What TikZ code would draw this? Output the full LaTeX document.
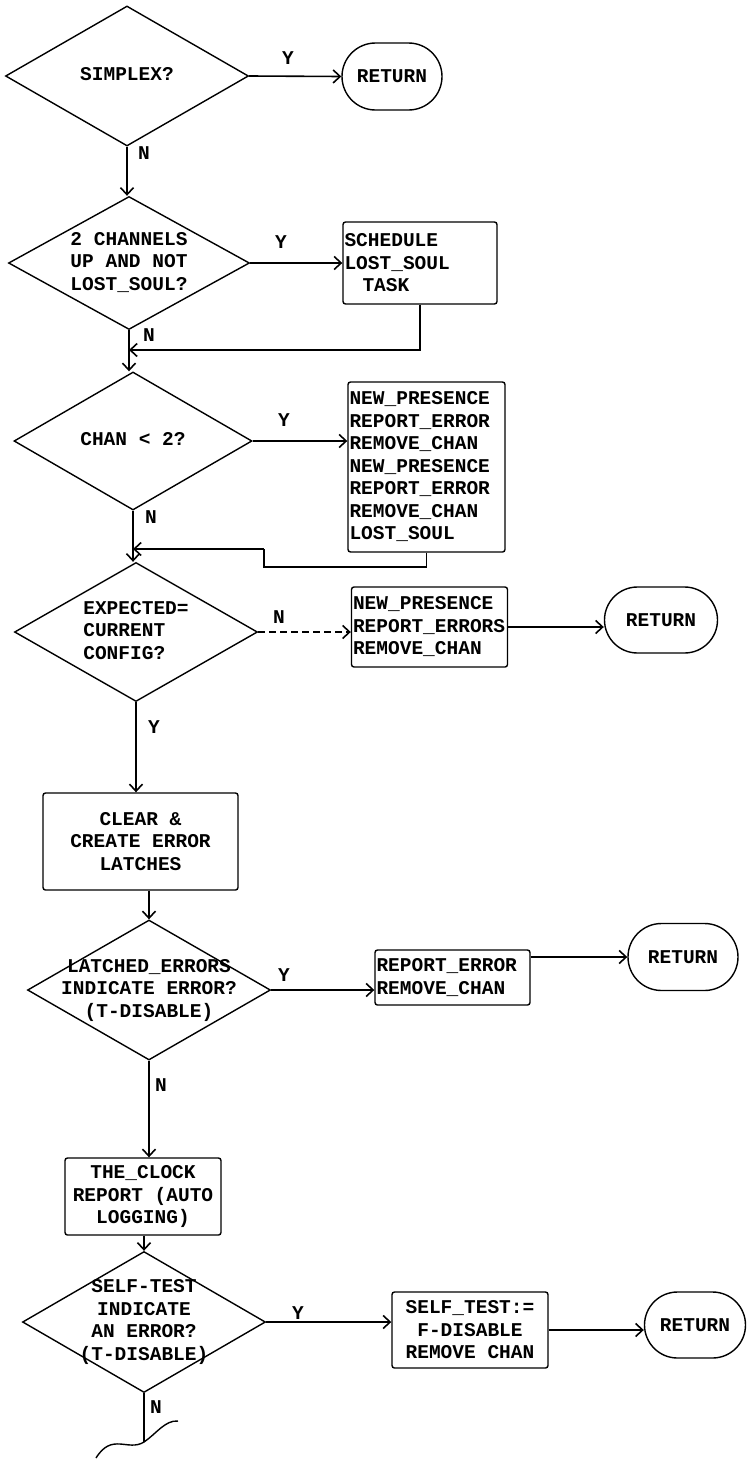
\documentclass[tikz,border=0pt]{standalone}
\usepackage{fontspec}
\setmainfont{Liberation Mono}[WordSpace={1,0,0}]
\usetikzlibrary{shapes.geometric,shapes.misc,arrows.meta}
\newcommand\pfont{\fontsize{19.5}{22.5}\selectfont\bfseries}
\newcommand\zt[2][c]{\makebox[0pt]{\begin{tabular}{@{}#1@{}}#2\end{tabular}}}
\begin{document}
\begin{tikzpicture}[x=1pt,y=-1pt,
  every node/.style={font=\pfont, text=black},
  dia/.style={draw, diamond, line width=1.4pt, inner sep=0pt, minimum width=243pt, minimum height=140pt},
  proc/.style={draw, rectangle, rounded corners=2.5pt, line width=1.4pt, inner xsep=1.5pt, inner ysep=0pt, align=flush left},
  term/.style={draw, rounded rectangle, line width=1.4pt, inner sep=0pt, minimum width=100pt, minimum height=67pt},
  lbl/.style={inner sep=0pt},
  arr/.style={line width=1.6pt, -{Straight Barb[length=7pt,width=13pt]}},
  ln/.style={line width=1.6pt},
]
\useasboundingbox (0,0) rectangle (749,1459);

% nodes
\node[dia] (d1) at (127,76) {\zt{SIMPLEX?}};
\node[term] (r1) at (392,76.5) {RETURN};

\node[dia, minimum width=241pt, minimum height=133pt] (d2) at (129,263) {\zt[l]{2 CHANNELS\\UP AND NOT\\LOST\_SOUL?}};
\node[proc, text width=151pt, minimum height=82pt] (s2) at (420,263) {SCHEDULE\\LOST\_SOUL\\\hspace*{18pt}TASK};

\node[dia, minimum width=238pt, minimum height=138pt] (d3) at (133,441) {\zt{CHAN < 2?}};
\node[proc, text width=154pt, minimum height=170pt] (b3) at (426.5,467) {NEW\_PRESENCE\\REPORT\_ERROR\\REMOVE\_CHAN\\NEW\_PRESENCE\\REPORT\_ERROR\\REMOVE\_CHAN\\LOST\_SOUL};

\node[dia, minimum height=139pt] (d4) at (136,632) {\zt[l]{EXPECTED=\\CURRENT\\CONFIG?}};
\node[proc, text width=153pt, minimum height=80pt] (b4) at (429.5,627) {NEW\_PRESENCE\\REPORT\_ERRORS\\REMOVE\_CHAN};
\node[term, minimum width=113pt, minimum height=66pt] (r4) at (661,620) {RETURN};

\node[proc, align=flush center, text width=192pt, minimum height=97pt] (clear) at (140.5,841.5) {CLEAR \&\\CREATE ERROR\\LATCHES};

\node[dia] (d5) at (149,990) {\zt{LATCHED\_ERRORS\\INDICATE ERROR?\\(T-DISABLE)}};
\node[proc, text width=152pt, minimum height=55pt] (b5) at (452.5,977.5) {REPORT\_ERROR\\REMOVE\_CHAN};
\node[term, minimum width=110pt] (r5) at (683,957) {RETURN};

\node[proc, align=flush center, text width=153pt, minimum height=77pt] (clock) at (143,1196.5) {THE\_CLOCK\\REPORT (AUTO\\LOGGING)};

\node[dia, minimum height=141pt] (d6) at (144,1322) {\zt{SELF-TEST\\INDICATE\\AN ERROR?\\(T-DISABLE)}};
\node[proc, align=flush center, text width=153pt, minimum height=76pt] (b6) at (470,1330) {SELF\_TEST:=\\F-DISABLE\\REMOVE CHAN};
\node[term, minimum width=101pt, minimum height=66pt] (r6) at (695,1325) {RETURN};

% labels
\node[lbl] (y1) at (288,58) {Y};
\node[lbl] (n1) at (144,153) {N};
\node[lbl] (y2) at (281,242) {Y};
\node[lbl] (n2) at (149,335) {N};
\node[lbl] (y3) at (284,420) {Y};
\node[lbl] (n3) at (151,517) {N};
\node[lbl] (n4) at (279,617) {N};
\node[lbl] (y4) at (154,727) {Y};
\node[lbl] (y5) at (284,975) {Y};
\node[lbl] (n5) at (161,1085) {N};
\node[lbl] (y6) at (298,1313) {Y};
\node[lbl] (n6) at (156,1407) {N};

% connectors
\draw[arr] (d1.east) -- (r1.west);
\draw[arr] (d1.south) -- (d1.south |- d2.north);
\draw[arr] (d2.east) -- (s2.west);
\coordinate (j2) at (129,350);
\draw[arr] (s2.south) |- (j2);
\draw[arr] (d2.south) -- (d2.south |- d3.north);

\draw[arr] (d3.east) -- (d3.east -| b3.west);
\coordinate (k1) at (264,567);
\coordinate (k2) at (264,549);
\coordinate (j3) at (133,549);
\draw[ln] (b3.south) |- (k1) -- (k2);
\draw[arr] (k2) -- (j3);
\draw[arr] (d3.south) -- (d3.south |- d4.north);

\draw[arr, dash pattern=on 7pt off 4pt] (d4.east) -- (d4.east -| b4.west);
\draw[arr] (b4.east) -- (b4.east -| r4.west);
\draw[arr] (d4.south) -- (d4.south |- clear.north);

\draw[arr] (d5.north |- clear.south) -- (d5.north);
\draw[arr] (d5.east) -- (d5.east -| b5.west);
\draw[arr] (r5.west -| b5.east) -- (r5.west);
\draw[arr] (d5.south) -- (d5.south |- clock.north);

\draw[arr] (d6.north |- clock.south) -- (d6.north);
\draw[arr] (d6.east) -- (d6.east -| b6.west);
\draw[arr] (b6.east) -- (b6.east -| r6.west);

\coordinate (brk) at (144,1442);
\draw[ln] (d6.south) -- (brk);
\draw[line width=1.4pt] (96,1458) .. controls (112,1432) and (128,1452) .. (brk) .. controls (156,1434) and (165,1420) .. (178,1421);
\end{tikzpicture}
\end{document}
